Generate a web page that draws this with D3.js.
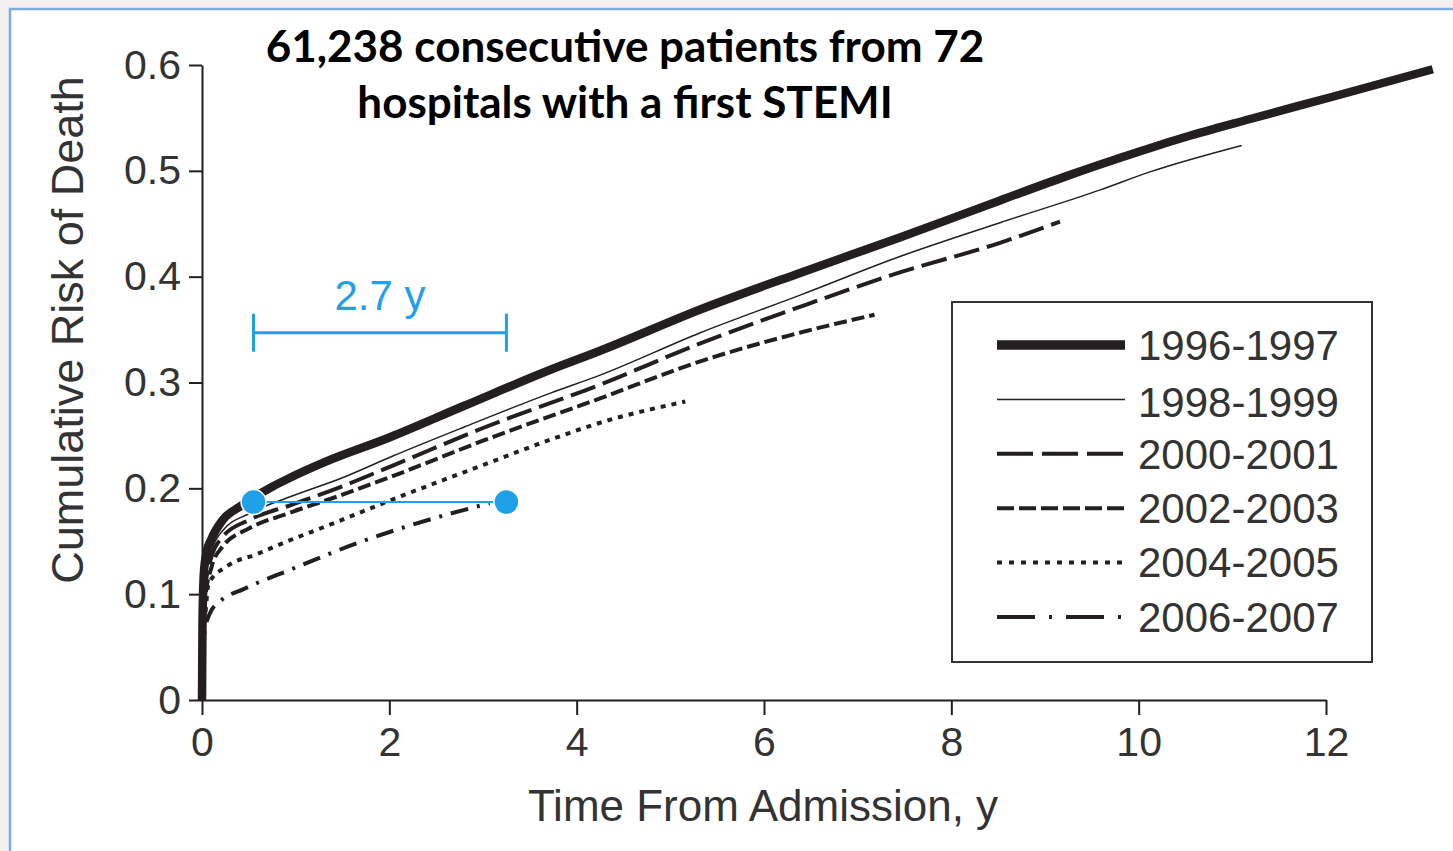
<!DOCTYPE html>
<html>
<head>
<meta charset="utf-8">
<script src="https://cdn.jsdelivr.net/npm/d3@7"></script>
<style>
  body { margin: 0; background: #f4f0f0; }
  svg { display: block; }
</style>
</head>
<body>
<div id="chart"></div>
<script>
// cumulative risk of death by admission period
const periods = ["1996-1997", "1998-1999", "2000-2001", "2002-2003", "2004-2005", "2006-2007"];

const t9697 = [0, 0.005, 0.02, 0.05, 0.1, 0.22, 0.41, 0.76, 0.94, 1.29, 2.0, 2.8, 3.72, 4.25, 5.32, 6.4, 7.45, 8.52, 9.23, 10.0, 10.5, 11.19, 12.07, 13.14];
const r9697 = [0, 0.07, 0.12, 0.14, 0.152, 0.17, 0.183, 0.202, 0.21, 0.224, 0.248, 0.278, 0.312, 0.33, 0.369, 0.404, 0.437, 0.472, 0.495, 0.518, 0.532, 0.549, 0.570, 0.596];

const t9899 = [0, 0.01, 0.04, 0.1, 0.22, 0.5, 0.94, 1.5, 2.05, 2.8, 3.72, 4.25, 5.32, 6.4, 7.45, 8.52, 9.59, 10.12, 11.1];
const r9899 = [0, 0.07, 0.115, 0.14, 0.16, 0.176, 0.192, 0.21, 0.231, 0.258, 0.29, 0.307, 0.347, 0.383, 0.419, 0.451, 0.482, 0.499, 0.524];

const t0001 = [0, 0.01, 0.04, 0.1, 0.22, 0.5, 0.94, 1.5, 2.05, 3.0, 4.25, 5.32, 6.4, 7.45, 8.52, 9.16];
const r0001 = [0, 0.065, 0.11, 0.135, 0.154, 0.17, 0.184, 0.202, 0.222, 0.257, 0.298, 0.337, 0.372, 0.404, 0.432, 0.452];

const t0203 = [0, 0.01, 0.04, 0.1, 0.22, 0.5, 0.94, 1.5, 2.05, 3.0, 4.25, 5.32, 6.38, 7.18];
const r0203 = [0, 0.06, 0.1, 0.125, 0.145, 0.162, 0.177, 0.194, 0.212, 0.245, 0.285, 0.32, 0.347, 0.364];

const t0405 = [0, 0.01, 0.04, 0.07, 0.26, 0.59, 0.94, 1.29, 2.05, 3.0, 3.72, 4.25, 5.16];
const r0405 = [0, 0.05, 0.085, 0.11, 0.126, 0.138, 0.151, 0.163, 0.19, 0.222, 0.246, 0.262, 0.282];

const t0607 = [0, 0.01, 0.04, 0.085, 0.19, 0.45, 0.94, 1.65, 2.15, 3.07];
const r0607 = [0, 0.05, 0.07, 0.082, 0.093, 0.105, 0.123, 0.148, 0.163, 0.186];

const seriesT = [t9697, t9899, t0001, t0203, t0405, t0607];
const seriesR = [r9697, r9899, r0001, r0203, r0405, r0607];

const xTicks = [0, 2, 4, 6, 8, 10, 12];
const yTicks = [0, 0.1, 0.2, 0.3, 0.4, 0.5, 0.6];

// the blue "2.7 y" annotation
const gapStart = 0.55, gapYears = 2.7, gapRisk = 0.187, bracketRisk = 0.347;

const W = 1453, H = 851;
const ink = "#231f20";

// line looks per period: width, dash in plot, dash in legend
const looks = [
  { w: 8.5, dash: null, ldash: null, lw: 9.5 },
  { w: 1.5, dash: null, ldash: null, lw: 1.5 },
  { w: 4, dash: "26,8", ldash: "36,9", lw: 4 },
  { w: 4, dash: "13,5", ldash: "17,5", lw: 4 },
  { w: 4, dash: "5,6", ldash: "5,7", lw: 4 },
  { w: 4, dash: "18,9,3,9", ldash: "38,14,3,14", lw: 4 }
];

const svg = d3.select("#chart").append("svg")
  .attr("width", W)
  .attr("height", H);

// slide frame
svg.append("rect")
  .attr("x", 10).attr("y", 9)
  .attr("width", W + 20).attr("height", H + 20)
  .attr("fill", "#fff")
  .attr("stroke", "#7aaee0")
  .attr("stroke-width", 2.5);

const x = d3.scaleLinear().domain([0, 12]).range([202, 1326]);
const y = d3.scaleLinear().domain([0, 0.6]).range([700, 65]);

const font = "'Liberation Sans', Arial, sans-serif";

// axes
const yAxis = svg.append("g")
  .attr("transform", `translate(${x(0)},0)`)
  .call(d3.axisLeft(y).tickValues(yTicks).tickSize(13).tickSizeOuter(0).tickPadding(8)
    .tickFormat(d => d === 0 ? "0" : d3.format(".1f")(d)));

const xAxis = svg.append("g")
  .attr("transform", `translate(0,${y(0)})`)
  .call(d3.axisBottom(x).tickValues(xTicks).tickSize(15).tickSizeOuter(0).tickPadding(12));

[yAxis, xAxis].forEach(g => {
  g.selectAll("path, line").attr("stroke", ink).attr("stroke-width", 2);
  g.selectAll("text")
    .attr("fill", "#333")
    .style("font-family", font)
    .style("font-size", "41px");
});

svg.append("text")
  .attr("transform", `translate(83,330) rotate(-90)`)
  .attr("text-anchor", "middle")
  .attr("fill", "#333")
  .style("font-family", font)
  .style("font-size", "45px")
  .text("Cumulative Risk of Death");

svg.append("text")
  .attr("x", 763).attr("y", 821)
  .attr("text-anchor", "middle")
  .attr("fill", "#333")
  .style("font-family", font)
  .style("font-size", "44px")
  .text("Time From Admission, y");

// curves
const line = d3.line()
  .x(d => x(d[0]))
  .y(d => y(d[1]))
  .curve(d3.curveMonotoneX);

seriesT.forEach((ts, i) => {
  const pts = ts.map((t, j) => [t, seriesR[i][j]]);
  svg.append("path")
    .datum(pts)
    .attr("fill", "none")
    .attr("stroke", ink)
    .attr("stroke-width", looks[i].w)
    .attr("stroke-dasharray", looks[i].dash)
    .attr("stroke-linejoin", "round")
    .attr("d", line);
});

// legend
const legend = svg.append("g");
legend.append("rect")
  .attr("x", 952).attr("y", 302)
  .attr("width", 420).attr("height", 360)
  .attr("fill", "#fff")
  .attr("stroke", "#333")
  .attr("stroke-width", 2);

periods.forEach((p, i) => {
  const ly = 345 + i * 54.4;
  legend.append("line")
    .attr("x1", 997).attr("x2", 1125)
    .attr("y1", ly).attr("y2", ly)
    .attr("stroke", ink)
    .attr("stroke-width", looks[i].lw)
    .attr("stroke-dasharray", looks[i].ldash);
  legend.append("text")
    .attr("x", 1138).attr("y", ly + (i === 1 ? 3 : 0))
    .attr("dy", "0.35em")
    .attr("fill", "#333")
    .style("font-family", font)
    .style("font-size", "42px")
    .text(p);
});

// title
const title = svg.append("g")
  .attr("text-anchor", "middle")
  .style("font-family", "Lato, 'Open Sans', sans-serif")
  .style("font-weight", 700)
  .style("font-size", "44px")
  .attr("fill", "#000");
title.append("text").attr("x", 625).attr("y", 62).text("61,238 consecutive patients from 72");
title.append("text").attr("x", 625).attr("y", 118).text("hospitals with a first STEMI");

// annotation
const blue = "#1fa0e8";
const ann = svg.append("g");
const bx1 = x(gapStart), bx2 = x(gapStart + gapYears), by = y(bracketRisk);
ann.append("line").attr("x1", bx1).attr("x2", bx2).attr("y1", by).attr("y2", by)
  .attr("stroke", blue).attr("stroke-width", 3);
[bx1, bx2].forEach(bx => ann.append("line")
  .attr("x1", bx).attr("x2", bx).attr("y1", by - 19).attr("y2", by + 19)
  .attr("stroke", blue).attr("stroke-width", 3));
ann.append("text")
  .attr("x", (bx1 + bx2) / 2).attr("y", by - 23)
  .attr("text-anchor", "middle")
  .attr("fill", blue)
  .style("font-family", font)
  .style("font-size", "42px")
  .text(gapYears + " y");

const dy = y(gapRisk);
ann.append("line").attr("x1", bx1).attr("x2", bx2).attr("y1", dy).attr("y2", dy)
  .attr("stroke", blue).attr("stroke-width", 2);
[bx1, bx2].forEach(bx => ann.append("circle")
  .attr("cx", bx).attr("cy", dy).attr("r", 12.5)
  .attr("fill", blue)
  .attr("stroke", "#fff").attr("stroke-width", 1.5));
</script>
</body>
</html>
